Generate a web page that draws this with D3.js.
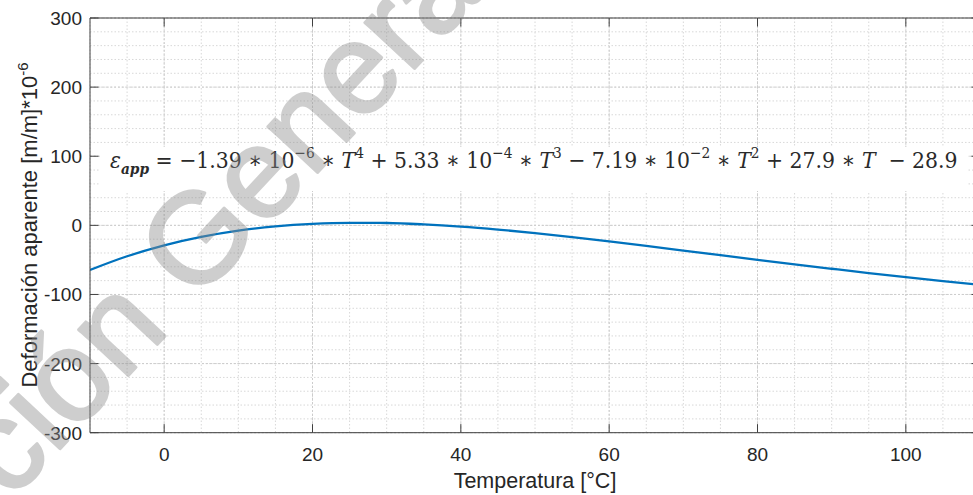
<!DOCTYPE html>
<html>
<head>
<meta charset="utf-8">
<script src="https://cdn.jsdelivr.net/npm/d3@7/dist/d3.min.js"></script>
<style>
  html, body { margin: 0; padding: 0; background: #fff; }
  svg { display: block; }
  .pre { white-space: pre; }
</style>
</head>
<body>
<svg id="chart" width="973" height="495"></svg>
<script>
// ---- data ----
const temperatures = [-10, -5, 0, 5, 10, 15, 20, 25, 30, 35, 40, 45, 50, 55, 60, 65, 70, 75, 80, 85, 90, 95, 100, 105, 110];
const deformation  = [-64.5, -44.7, -28.9, -16.7, -7.7, -1.5, 2.2, 3.7, 3.4, 1.4, -1.8, -6.1, -11.2, -17.0, -23.2, -29.8, -36.5, -43.2, -49.9, -56.5, -62.8, -69.0, -74.9, -80.6, -86.1];
const xTicks = [0, 20, 40, 60, 80, 100];
const yTicks = [-300, -200, -100, 0, 100, 200, 300];
const xMinor = d3.range(-10, 111, 5);
const yMinor = d3.range(-300, 301, 20);
const xDomain = [-10, 110];
const yDomain = [-300, 300];
const xLabel = "Temperatura [°C]";
const yLabelMain = "Deformación aparente [m/m]*10";
const yLabelSup = "-6";
const equationParts = [
  ["ε", "i"], ["app", "sub"], [" = −1.39 ∗ 10", "n"], ["−6", "sup"], [" ∗ ", "n"], ["T", "i"], ["4", "sup"],
  [" + 5.33 ∗ 10", "n"], ["−4", "sup"], [" ∗ ", "n"], ["T", "i"], ["3", "sup"],
  [" − 7.19 ∗ 10", "n"], ["−2", "sup"], [" ∗ ", "n"], ["T", "i"], ["2", "sup"],
  [" + 27.9 ∗ ", "n"], ["T", "i"], ["  − 28.9", "n"]
];
const watermarkBefore = "Dirección ";
const watermarkAfter = "General de Bibliotecas";

// ---- layout ----
const svg = d3.select("#chart");
const L = 90, R = 980, T = 18, B = 432.7;
const x = d3.scaleLinear().domain(xDomain).range([L, R]);
const y = d3.scaleLinear().domain(yDomain).range([B, T]);
const FONT = "'Liberation Sans', Arial, Helvetica, sans-serif";
const axisColor = "#404040";

svg.append("rect").attr("x", 0).attr("y", 0).attr("width", 973).attr("height", 495).attr("fill", "#fff");

// minor grid
const grid = svg.append("g");
grid.selectAll(".vmin").data(xMinor).join("line")
  .attr("x1", d => x(d)).attr("x2", d => x(d)).attr("y1", T).attr("y2", B)
  .attr("stroke", "#d8d8d8").attr("stroke-width", 1).attr("stroke-dasharray", "1.5,2");
grid.selectAll(".hmin").data(yMinor).join("line")
  .attr("x1", L).attr("x2", R).attr("y1", d => y(d)).attr("y2", d => y(d))
  .attr("stroke", "#d8d8d8").attr("stroke-width", 1).attr("stroke-dasharray", "1.5,2");
// major grid
grid.selectAll(".vmaj").data(xTicks).join("line")
  .attr("x1", d => x(d)).attr("x2", d => x(d)).attr("y1", T).attr("y2", B)
  .attr("stroke", "#cccccc").attr("stroke-width", 1).attr("stroke-dasharray", "2,2");
grid.selectAll(".hmaj").data(yTicks).join("line")
  .attr("x1", L).attr("x2", R).attr("y1", d => y(d)).attr("y2", d => y(d))
  .attr("stroke", "#cccccc").attr("stroke-width", 1).attr("stroke-dasharray", "2,2");

// curve
svg.append("defs").append("clipPath").attr("id", "clip")
  .append("rect").attr("x", L).attr("y", T).attr("width", R - L).attr("height", B - T);
const line = d3.line().x((d, i) => x(temperatures[i])).y(d => y(d)).curve(d3.curveMonotoneX);
svg.append("path").datum(deformation)
  .attr("clip-path", "url(#clip)")
  .attr("d", line).attr("fill", "none").attr("stroke", "#0072BD").attr("stroke-width", 2.3);

// equation box
const eqG = svg.append("g");
eqG.append("rect").attr("x", 100).attr("y", 147).attr("width", 868).attr("height", 44).attr("fill", "#fff");
const eqText = eqG.append("text").attr("class", "pre")
  .attr("x", 0).attr("y", 168)
  .attr("font-family", "'DejaVu Serif', 'Liberation Serif', serif")
  .attr("font-size", 23).attr("fill", "#2a2a2a");
let off = 0;
equationParts.forEach(([t, s]) => {
  const ts = eqText.append("tspan").text(t);
  let target = 0;
  if (s === "sup") target = -10;
  if (s === "sub") target = 6;
  ts.attr("dy", target - off);
  off = target;
  if (s === "sup" || s === "sub") ts.attr("font-size", 15.5);
  if (s === "i" || s === "sub") ts.attr("font-style", "italic");
  if (s === "sub") ts.attr("font-weight", "bold");
});
const bb = eqText.node().getBBox();
const sx = (958 - 110) / bb.width;
eqText.attr("transform", `translate(110,0) scale(${sx},1) translate(${-bb.x},0)`);

// axes box
svg.append("line").attr("x1", L).attr("x2", R).attr("y1", T).attr("y2", T).attr("stroke", axisColor);
svg.append("line").attr("x1", L).attr("x2", R).attr("y1", B).attr("y2", B).attr("stroke", axisColor);
svg.append("line").attr("x1", L).attr("x2", L).attr("y1", T).attr("y2", B).attr("stroke", axisColor);
svg.append("line").attr("x1", R).attr("x2", R).attr("y1", T).attr("y2", B).attr("stroke", axisColor);

// ticks (inward)
const tl = 8.5;
svg.selectAll(".xtb").data(xTicks).join("line")
  .attr("x1", d => x(d)).attr("x2", d => x(d)).attr("y1", B).attr("y2", B - tl).attr("stroke", axisColor);
svg.selectAll(".xtt").data(xTicks).join("line")
  .attr("x1", d => x(d)).attr("x2", d => x(d)).attr("y1", T).attr("y2", T + tl).attr("stroke", axisColor);
svg.selectAll(".ytl").data(yTicks).join("line")
  .attr("x1", L).attr("x2", L + tl).attr("y1", d => y(d)).attr("y2", d => y(d)).attr("stroke", axisColor);
svg.selectAll(".ytr").data(yTicks).join("line")
  .attr("x1", R - tl).attr("x2", R).attr("y1", d => y(d)).attr("y2", d => y(d)).attr("stroke", axisColor);

// tick labels
svg.selectAll(".xl").data(xTicks).join("text")
  .attr("x", d => x(d)).attr("y", 461).attr("text-anchor", "middle")
  .attr("font-family", FONT).attr("font-size", 19).attr("fill", "#262626")
  .text(d => d);
svg.selectAll(".yl").data(yTicks).join("text")
  .attr("x", 82).attr("y", d => y(d) + 7).attr("text-anchor", "end")
  .attr("font-family", FONT).attr("font-size", 19).attr("fill", "#262626")
  .text(d => d);

// axis labels
svg.append("text").attr("x", (L + R) / 2).attr("y", 488).attr("text-anchor", "middle")
  .attr("font-family", FONT).attr("font-size", 21.5).attr("fill", "#262626").text(xLabel);
const yl = svg.append("text").attr("transform", `translate(37,${(58 + 392) / 2}) rotate(-90)`)
  .attr("text-anchor", "middle").attr("font-family", FONT).attr("font-size", 22).attr("fill", "#262626");
yl.append("tspan").text(yLabelMain);
yl.append("tspan").attr("dy", -9).attr("font-size", 15).text(yLabelSup);

// watermark
const wm = svg.append("g").attr("transform", "translate(195,304) rotate(-47)")
  .attr("opacity", 0.42)
  .attr("font-family", FONT).attr("font-size", 128)
  .attr("fill", "rgb(140,140,140)").attr("stroke", "rgb(140,140,140)")
  .attr("stroke-width", 3).attr("stroke-linejoin", "round");
wm.append("text").attr("class", "pre").attr("text-anchor", "end").text(watermarkBefore);
wm.append("text").attr("class", "pre").attr("text-anchor", "start").text(watermarkAfter);
</script>
</body>
</html>
